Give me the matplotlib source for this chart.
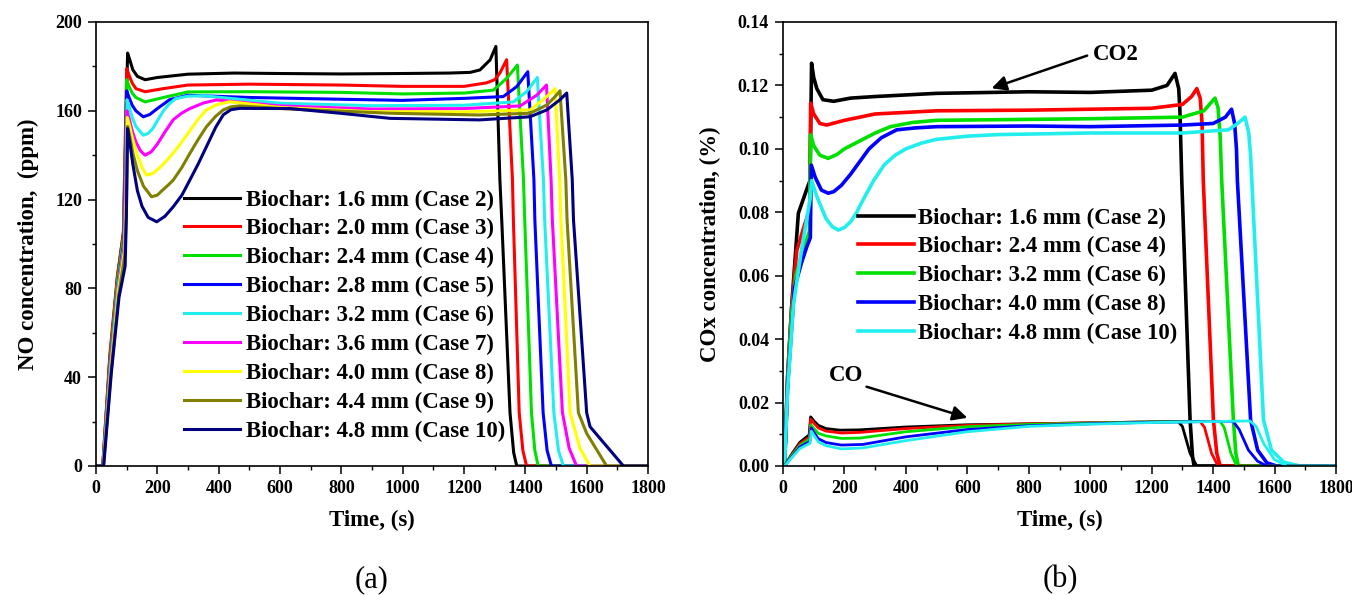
"""NO and COx breakthrough curves for biochar beds of different particle size:
(a) NO concentration for cases 2-10, (b) CO2 / CO for the even cases."""
import matplotlib

matplotlib.use("Agg")
import matplotlib.pyplot as plt
from matplotlib.ticker import MultipleLocator, FormatStrFormatter

plt.rcParams["font.family"] = ["Liberation Serif", "DejaVu Serif"]
plt.rcParams["font.weight"] = "bold"

# ---- panel (a): NO concentration (ppm) vs time (s) ----
t_16 = [0, 22, 45, 70, 90, 97, 103, 110, 120, 135, 160, 200, 300, 450, 600, 800, 1000, 1150,
        1220, 1252, 1285, 1304, 1317, 1323, 1350, 1362, 1372, 1800]
no_16 = [0, 0, 48, 85, 106, 150, 186, 183, 178.5, 175.5, 174, 175, 176.5, 177, 176.8, 176.6,
         176.8, 177, 177.3, 178.4, 182.9, 189, 129, 111, 24, 6, 0, 0]

t_20 = [0, 22, 45, 70, 89, 95, 100, 108, 118, 130, 160, 220, 300, 500, 800, 1000, 1200, 1274,
        1300, 1317, 1339, 1358, 1361, 1380, 1392, 1404, 1800]
no_20 = [0, 0, 50, 86, 104, 145, 179, 176, 172.5, 170, 168.6, 170, 171.6, 172, 171.6, 171, 171,
         172.6, 174, 177, 183, 129, 111, 24, 7, 0, 0]

t_24 = [0, 23, 46, 71, 90, 96, 100, 108, 118, 130, 160, 220, 300, 500, 800, 1000, 1200, 1296,
        1339, 1374, 1394, 1398, 1420, 1431, 1442, 1800]
no_24 = [0, 0, 47, 84, 103, 140, 174, 171, 168, 166, 164, 166, 168.5, 168.6, 168.3, 167.6, 168,
         169.3, 174.6, 180.6, 129, 111, 24, 7, 0, 0]

t_28 = [0, 23, 47, 72, 91, 96, 100, 108, 118, 130, 154, 175, 200, 240, 300, 500, 800, 1000,
        1200, 1328, 1372, 1408, 1428, 1431, 1458, 1471, 1485, 1800]
no_28 = [0, 0, 46, 82, 101, 135, 169, 166, 162.5, 160, 157.3, 158.3, 161, 165, 167, 166, 165.2,
         164.7, 165.6, 166.4, 170.9, 177.6, 129, 111, 24, 7, 0, 0]

t_32 = [0, 23, 47, 72, 92, 97, 101, 108, 118, 130, 154, 170, 185, 200, 220, 240, 260, 300, 350,
        600, 900, 1200, 1361, 1404, 1439, 1459, 1463, 1493, 1508, 1524, 1800]
no_32 = [0, 0, 45, 81, 100, 130, 165, 162, 157, 153, 149, 149.8, 152, 155.5, 160, 163.3, 165.5,
         166.6, 166.8, 163.4, 162.3, 162.5, 164, 168.6, 175, 129, 111, 24, 7, 0, 0]

t_36 = [0, 24, 48, 73, 92, 97, 101, 108, 118, 130, 145, 160, 180, 200, 225, 252, 280, 306, 350,
        393, 600, 900, 1200, 1383, 1437, 1469, 1484, 1488, 1521, 1543, 1567, 1800]
no_36 = [0, 0, 44, 80, 99, 125, 160, 156.5, 151, 146, 142, 140, 141.5, 145, 150.5, 156, 159, 161,
         163.5, 164.9, 162.2, 160.8, 161, 162.2, 167, 171.6, 129, 111, 24, 8, 0, 0]

t_40 = [0, 24, 48, 73, 93, 98, 102, 110, 120, 135, 150, 165, 185, 205, 230, 252, 280, 306, 335,
        360, 395, 436, 600, 900, 1200, 1415, 1459, 1497, 1512, 1516, 1546, 1578, 1611, 1800]
no_40 = [0, 0, 43, 79, 97, 120, 157, 153, 147, 140, 134.5, 131, 131.8, 134, 137.5, 141, 146, 151,
         156.5, 160.4, 162.8, 164.1, 161.5, 159.6, 159.5, 160.4, 165, 170, 129, 111, 24, 8, 0, 0]

t_44 = [0, 24, 49, 74, 94, 99, 103, 110, 120, 135, 155, 181, 200, 215, 235, 252, 280, 306, 335,
        360, 390, 415, 440, 469, 633, 959, 1250, 1415, 1470, 1497, 1513, 1532, 1536, 1573, 1600,
        1665, 1800]
no_44 = [0, 0, 42, 77, 95, 115, 153, 148.5, 141, 133, 126, 121.3, 122, 124, 126.5, 128.8, 134.5,
         140.8, 147.5, 152.8, 157.5, 160.4, 161.8, 162.2, 160.8, 158.9, 158.1, 158.9, 162.6,
         166.4, 169, 129, 111, 24, 14.7, 0, 0]

t_48 = [0, 25, 50, 75, 95, 99, 103, 110, 120, 135, 150, 170, 198, 225, 252, 280, 306, 333, 360,
        390, 415, 440, 469, 633, 796, 959, 1250, 1415, 1470, 1513, 1535, 1553, 1557, 1600, 1611,
        1720, 1800]
no_48 = [0, 0, 42, 76, 90, 112, 152, 146, 136, 124, 117, 112, 110, 112.5, 116.8, 122, 128.8,
         136, 143.8, 152.5, 158.2, 160.5, 161.1, 161, 158.9, 156.6, 155.9, 157.3, 160.4, 165, 168,
         129, 111, 24, 17.7, 0, 0]

no_labels = ["Biochar: 1.6 mm (Case 2)", "Biochar: 2.0 mm (Case 3)", "Biochar: 2.4 mm (Case 4)",
             "Biochar: 2.8 mm (Case 5)", "Biochar: 3.2 mm (Case 6)", "Biochar: 3.6 mm (Case 7)",
             "Biochar: 4.0 mm (Case 8)", "Biochar: 4.4 mm (Case 9)", "Biochar: 4.8 mm (Case 10)"]
no_colours = ["#000000", "#ff0000", "#00e000", "#0000ff", "#22eeee", "#ff00ff", "#ffff00",
              "#808000", "#000080"]

# ---- panel (b): CO2 and CO concentration (%) vs time (s) ----
tc2_16 = [0, 5, 15, 28, 50, 80, 88, 93, 100, 110, 130, 165, 220, 300, 500, 800, 1000, 1200,
          1250, 1276, 1288, 1292, 1298, 1325, 1333, 1338, 1800]
co2_16 = [0, 0, 0.028, 0.050, 0.0797, 0.088, 0.090, 0.127, 0.1225, 0.119, 0.1155, 0.115, 0.116,
          0.1165, 0.1175, 0.118, 0.1178, 0.1185, 0.120, 0.1238, 0.119, 0.112, 0.090, 0.0145,
          0.003, 0, 0]

tc2_24 = [0, 5, 15, 28, 45, 70, 87, 90, 100, 120, 142, 200, 300, 500, 800, 1000, 1200, 1300,
          1330, 1347, 1358, 1364, 1368, 1401, 1412, 1423, 1800]
co2_24 = [0, 0, 0.028, 0.050, 0.068, 0.076, 0.081, 0.1144, 0.111, 0.108, 0.1075, 0.109, 0.111,
          0.112, 0.1122, 0.1125, 0.1128, 0.114, 0.1165, 0.119, 0.116, 0.108, 0.090, 0.0145, 0.004,
          0, 0]

tc2_32 = [0, 5, 15, 28, 42, 65, 86, 90, 100, 120, 147, 175, 200, 250, 300, 350, 420, 500, 800,
          1000, 1300, 1370, 1406, 1416, 1423, 1428, 1466, 1474, 1482, 1800]
co2_32 = [0, 0, 0.026, 0.048, 0.060, 0.068, 0.0739, 0.1044, 0.101, 0.098, 0.097, 0.0982, 0.100,
          0.1025, 0.105, 0.107, 0.1083, 0.109, 0.1093, 0.1095, 0.110, 0.112, 0.116, 0.113, 0.104,
          0.090, 0.0145, 0.004, 0, 0]

tc2_40 = [0, 5, 15, 37, 60, 77, 89, 92, 105, 125, 147, 165, 190, 220, 250, 280, 320, 370, 430,
          500, 800, 1000, 1300, 1400, 1440, 1460, 1470, 1476, 1479, 1522, 1545, 1575, 1607, 1800]
co2_40 = [0, 0, 0.025, 0.056, 0.064, 0.069, 0.072, 0.0949, 0.091, 0.087, 0.086, 0.0865, 0.0885,
          0.092, 0.096, 0.100, 0.1035, 0.106, 0.1066, 0.107, 0.1072, 0.107, 0.1075, 0.108, 0.110,
          0.1125, 0.108, 0.100, 0.090, 0.0145, 0.005, 0.001, 0, 0]

tc2_48 = [0, 5, 15, 34, 60, 88, 93, 110, 140, 160, 180, 200, 220, 240, 261, 295, 330, 365, 400,
          450, 500, 600, 700, 1000, 1300, 1450, 1480, 1504, 1516, 1522, 1526, 1564, 1590, 1630,
          1683, 1800]
co2_48 = [0, 0, 0.024, 0.051, 0.068, 0.084, 0.090, 0.085, 0.078, 0.0755, 0.0744, 0.0752, 0.077,
          0.080, 0.084, 0.090, 0.095, 0.098, 0.100, 0.1018, 0.103, 0.104, 0.1045, 0.105, 0.105,
          0.106, 0.108, 0.110, 0.105, 0.098, 0.090, 0.0145, 0.005, 0.0012, 0, 0]

tco_16 = [0, 5, 30, 55, 85, 90, 100, 115, 140, 186, 250, 400, 600, 800, 1000, 1200, 1286, 1300,
          1325, 1347, 1800]
co_16 = [0, 0, 0.004, 0.0075, 0.0098, 0.0155, 0.0143, 0.0128, 0.0118, 0.0113, 0.0114, 0.0123,
         0.013, 0.0133, 0.0136, 0.0139, 0.014, 0.0125, 0.004, 0, 0]

tco_24 = [0, 5, 30, 55, 86, 90, 100, 115, 140, 190, 250, 400, 600, 800, 1000, 1200, 1357, 1372,
          1395, 1416, 1800]
co_24 = [0, 0, 0.0037, 0.007, 0.009, 0.0148, 0.0136, 0.012, 0.011, 0.0104, 0.0106, 0.0118,
         0.0128, 0.0133, 0.0136, 0.0139, 0.0141, 0.0122, 0.004, 0, 0]

tco_32 = [0, 5, 30, 55, 87, 91, 100, 115, 140, 190, 250, 400, 600, 800, 1000, 1200, 1422, 1436,
          1458, 1477, 1800]
co_32 = [0, 0, 0.0034, 0.0065, 0.0085, 0.013, 0.0119, 0.0103, 0.0095, 0.0087, 0.0088, 0.0108,
         0.0124, 0.0131, 0.0135, 0.0139, 0.0141, 0.0122, 0.004, 0, 0]

tco_40 = [0, 5, 30, 55, 88, 92, 100, 115, 140, 190, 260, 400, 600, 800, 1000, 1200, 1465, 1485,
          1515, 1545, 1575, 1800]
co_40 = [0, 0, 0.003, 0.006, 0.0078, 0.012, 0.0107, 0.0086, 0.0074, 0.0066, 0.0068, 0.0092,
         0.0115, 0.0127, 0.0133, 0.0138, 0.0141, 0.0115, 0.005, 0.0015, 0, 0]

tco_48 = [0, 5, 30, 55, 88, 92, 100, 115, 140, 190, 260, 400, 600, 800, 1000, 1200, 1520, 1540,
          1565, 1600, 1640, 1800]
co_48 = [0, 0, 0.0028, 0.0055, 0.0072, 0.011, 0.0098, 0.0076, 0.0064, 0.0054, 0.0057, 0.0080,
         0.0108, 0.0125, 0.0132, 0.0137, 0.0142, 0.0125, 0.007, 0.002, 0, 0]

cox_labels = ["Biochar: 1.6 mm (Case 2)", "Biochar: 2.4 mm (Case 4)", "Biochar: 3.2 mm (Case 6)",
              "Biochar: 4.0 mm (Case 8)", "Biochar: 4.8 mm (Case 10)"]
cox_colours = ["#000000", "#ff0000", "#00e000", "#0000ff", "#22eeee"]

LABEL_SIZE = 16.5
TICK_SIZE = 13


def _style_axes(ax):
    ax.set_xlim(0, 1800)
    ax.xaxis.set_major_locator(MultipleLocator(200))
    ax.xaxis.set_minor_locator(MultipleLocator(100))
    ax.tick_params(which="major", direction="out", length=6, width=1.1, pad=4,
                   labelsize=TICK_SIZE, top=False, right=False)
    ax.tick_params(which="minor", direction="out", length=3, width=1.0, top=False, right=False)
    for s in ax.spines.values():
        s.set_linewidth(1.2)
    ax.set_xlabel("Time, (s)", fontsize=LABEL_SIZE, fontweight="bold", labelpad=9)


fig = plt.figure(figsize=(13.52, 5.95), dpi=100)
ax1 = fig.add_axes([96 / 1352, 129 / 595, 552 / 1352, 444 / 595])
ax2 = fig.add_axes([783 / 1352, 129 / 595, 553 / 1352, 444 / 595])

# (a) NO
no_series = [(t_16, no_16), (t_20, no_20), (t_24, no_24), (t_28, no_28), (t_32, no_32),
             (t_36, no_36), (t_40, no_40), (t_44, no_44), (t_48, no_48)]
for (t, v), lab, c in zip(no_series, no_labels, no_colours):
    ax1.plot(t, v, color=c, lw=2.2, label=lab, solid_joinstyle="round")
_style_axes(ax1)
ax1.set_ylim(0, 200)
ax1.yaxis.set_major_locator(MultipleLocator(40))
ax1.yaxis.set_minor_locator(MultipleLocator(20))
ax1.set_ylabel("NO concentration,  (ppm)", fontsize=LABEL_SIZE, fontweight="bold", labelpad=12)
ax1.legend(loc="upper left", bbox_to_anchor=(0.160, 0.623), frameon=False,
           fontsize=LABEL_SIZE, handlelength=2.43, handletextpad=0.27, labelspacing=0.34,
           borderpad=0, borderaxespad=0)

# (b) CO2 (upper family) and CO (lower family)
co2_series = [(tc2_16, co2_16), (tc2_24, co2_24), (tc2_32, co2_32), (tc2_40, co2_40),
              (tc2_48, co2_48)]
co_series = [(tco_16, co_16), (tco_24, co_24), (tco_32, co_32), (tco_40, co_40),
             (tco_48, co_48)]
for (t, v), lab, c in zip(co2_series, cox_labels, cox_colours):
    ax2.plot(t, v, color=c, lw=2.6, label=lab, solid_joinstyle="round")
for (t, v), c in zip(co_series, cox_colours):
    ax2.plot(t, v, color=c, lw=2.0, solid_joinstyle="round")
_style_axes(ax2)
ax2.set_ylim(0, 0.14)
ax2.yaxis.set_major_locator(MultipleLocator(0.02))
ax2.yaxis.set_minor_locator(MultipleLocator(0.01))
ax2.yaxis.set_major_formatter(FormatStrFormatter("%.2f"))
ax2.set_ylabel("COx concentration, (%)", fontsize=LABEL_SIZE, fontweight="bold", labelpad=12)
ax2.legend(loc="upper left", bbox_to_anchor=(0.136, 0.582), frameon=False,
           fontsize=LABEL_SIZE, handlelength=2.43, handletextpad=0.2, labelspacing=0.33,
           borderpad=0, borderaxespad=0)

arrow = dict(arrowstyle="-|>", color="black", lw=1.8, mutation_scale=22, shrinkA=0, shrinkB=0)
ax2.text(1009, 0.1296, "CO2", fontsize=LABEL_SIZE, fontweight="bold", ha="left", va="center")
ax2.annotate("", xy=(679, 0.1191), xytext=(990, 0.1294), arrowprops=arrow)
ax2.text(205, 0.0284, "CO", fontsize=LABEL_SIZE, fontweight="bold", ha="center", va="center")
ax2.annotate("", xy=(600, 0.0152), xytext=(272, 0.0250), arrowprops=arrow)

# panel captions
fig.text(372 / 1352, 1 - 580 / 595, "(a)", fontsize=22, fontweight="normal",
         ha="center", va="center")
fig.text(1060 / 1352, 1 - 580 / 595, "(b)", fontsize=22, fontweight="normal",
         ha="center", va="center")

fig.savefig("out.png", dpi=100)
